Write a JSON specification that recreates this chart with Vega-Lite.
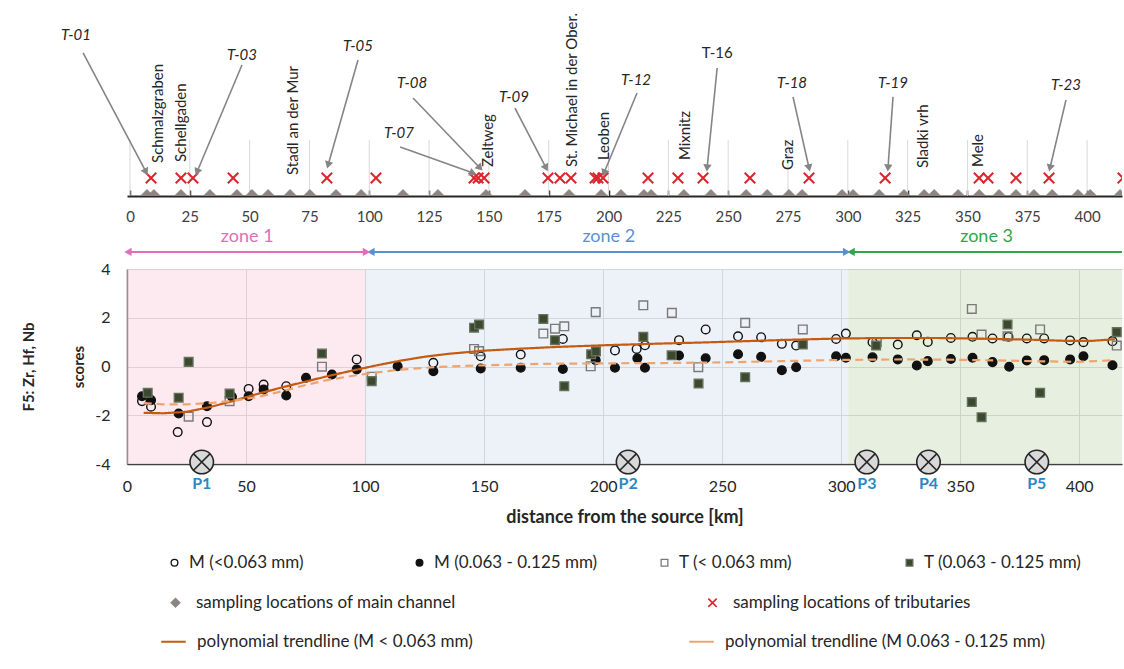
{
  "$schema": "https://vega.github.io/schema/vega-lite/v6.json",
  "padding": {"left": 21, "top": 8, "right": 0, "bottom": 4},
  "autosize": {"type": "pad"},
  "bounds": "flush",
  "spacing": 73,
  "config": {"font": "Lato", "view": {"stroke": null}},
  "datasets": {
    "sites": [
      {"km": 7.1, "loc": "sampling locations of main channel"}, {"km": 10.0, "loc": "sampling locations of main channel"},
      {"km": 21.3, "loc": "sampling locations of main channel"}, {"km": 33.4, "loc": "sampling locations of main channel"},
      {"km": 44.7, "loc": "sampling locations of main channel"}, {"km": 51.0, "loc": "sampling locations of main channel"},
      {"km": 57.7, "loc": "sampling locations of main channel"}, {"km": 66.9, "loc": "sampling locations of main channel"},
      {"km": 75.2, "loc": "sampling locations of main channel"}, {"km": 86.1, "loc": "sampling locations of main channel"},
      {"km": 96.6, "loc": "sampling locations of main channel"}, {"km": 114.1, "loc": "sampling locations of main channel"},
      {"km": 128.7, "loc": "sampling locations of main channel"}, {"km": 148.8, "loc": "sampling locations of main channel"},
      {"km": 165.1, "loc": "sampling locations of main channel"}, {"km": 183.5, "loc": "sampling locations of main channel"},
      {"km": 196.9, "loc": "sampling locations of main channel"}, {"km": 205.2, "loc": "sampling locations of main channel"},
      {"km": 214.8, "loc": "sampling locations of main channel"}, {"km": 217.8, "loc": "sampling locations of main channel"},
      {"km": 231.5, "loc": "sampling locations of main channel"}, {"km": 242.8, "loc": "sampling locations of main channel"},
      {"km": 257.5, "loc": "sampling locations of main channel"}, {"km": 266.3, "loc": "sampling locations of main channel"},
      {"km": 275.4, "loc": "sampling locations of main channel"}, {"km": 280.9, "loc": "sampling locations of main channel"},
      {"km": 297.6, "loc": "sampling locations of main channel"}, {"km": 302.2, "loc": "sampling locations of main channel"},
      {"km": 313.1, "loc": "sampling locations of main channel"}, {"km": 323.5, "loc": "sampling locations of main channel"},
      {"km": 331.9, "loc": "sampling locations of main channel"}, {"km": 336.1, "loc": "sampling locations of main channel"},
      {"km": 346.1, "loc": "sampling locations of main channel"}, {"km": 354.9, "loc": "sampling locations of main channel"},
      {"km": 363.2, "loc": "sampling locations of main channel"}, {"km": 370.3, "loc": "sampling locations of main channel"},
      {"km": 377.8, "loc": "sampling locations of main channel"}, {"km": 385.4, "loc": "sampling locations of main channel"},
      {"km": 396.2, "loc": "sampling locations of main channel"}, {"km": 401.3, "loc": "sampling locations of main channel"},
      {"km": 413.8, "loc": "sampling locations of main channel"},
      {"km": 8.8, "loc": "sampling locations of tributaries"}, {"km": 21.3, "loc": "sampling locations of tributaries"},
      {"km": 26.3, "loc": "sampling locations of tributaries"}, {"km": 43.1, "loc": "sampling locations of tributaries"},
      {"km": 82.3, "loc": "sampling locations of tributaries"}, {"km": 102.8, "loc": "sampling locations of tributaries"},
      {"km": 143.8, "loc": "sampling locations of tributaries"}, {"km": 145.5, "loc": "sampling locations of tributaries"},
      {"km": 148.0, "loc": "sampling locations of tributaries"}, {"km": 174.7, "loc": "sampling locations of tributaries"},
      {"km": 179.7, "loc": "sampling locations of tributaries"}, {"km": 184.3, "loc": "sampling locations of tributaries"},
      {"km": 194.4, "loc": "sampling locations of tributaries"}, {"km": 195.6, "loc": "sampling locations of tributaries"},
      {"km": 197.7, "loc": "sampling locations of tributaries"}, {"km": 216.5, "loc": "sampling locations of tributaries"},
      {"km": 229.0, "loc": "sampling locations of tributaries"}, {"km": 239.5, "loc": "sampling locations of tributaries"},
      {"km": 259.1, "loc": "sampling locations of tributaries"}, {"km": 283.8, "loc": "sampling locations of tributaries"},
      {"km": 315.6, "loc": "sampling locations of tributaries"}, {"km": 354.9, "loc": "sampling locations of tributaries"},
      {"km": 358.6, "loc": "sampling locations of tributaries"}, {"km": 370.3, "loc": "sampling locations of tributaries"},
      {"km": 384.1, "loc": "sampling locations of tributaries"}, {"km": 415.0, "loc": "sampling locations of tributaries"}
    ],
    "towns": [
      {"name": "Schmalzgraben", "km": 11.7, "h": 17.6},
      {"name": "Schellgaden", "km": 21.3, "h": 18.1},
      {"name": "Stadl an der Mur", "km": 68.1, "h": 11.2},
      {"name": "Zeltweg", "km": 149.6, "h": 15.4},
      {"name": "St. Michael in der Ober.", "km": 184.7, "h": 15.4},
      {"name": "Leoben", "km": 198.1, "h": 19.1},
      {"name": "Mixnitz", "km": 232.0, "h": 19.1},
      {"name": "Graz", "km": 275.0, "h": 13.8},
      {"name": "Sladki vrh", "km": 331.5, "h": 14.9},
      {"name": "Mele", "km": 354.4, "h": 15.4}
    ],
    "tribs": [
      {"t": "T-01", "lx": -22.6, "ly": 85.6, "x1": -19.6, "y1": 76.1, "x2": 6.7, "y2": 12.8},
      {"t": "T-03", "lx": 46.8, "ly": 75.0, "x1": 46.8, "y1": 69.7, "x2": 28.0, "y2": 12.8},
      {"t": "T-05", "lx": 95.3, "ly": 79.8, "x1": 95.3, "y1": 72.3, "x2": 82.8, "y2": 16.5},
      {"t": "T-07", "lx": 112.4, "ly": 33.5, "x1": 112.9, "y1": 26.1, "x2": 143.4, "y2": 12.2},
      {"t": "T-08", "lx": 117.9, "ly": 60.1, "x1": 118.3, "y1": 52.1, "x2": 146.3, "y2": 14.9},
      {"t": "T-09", "lx": 160.5, "ly": 52.7, "x1": 160.9, "y1": 46.8, "x2": 173.9, "y2": 14.9},
      {"t": "T-12", "lx": 211.5, "ly": 61.7, "x1": 211.9, "y1": 54.8, "x2": 198.1, "y2": 12.2},
      {"t": "T-16", "lx": 245.4, "ly": 76.1, "x1": 245.4, "y1": 68.1, "x2": 241.2, "y2": 14.9},
      {"t": "T-18", "lx": 276.7, "ly": 60.1, "x1": 277.1, "y1": 52.7, "x2": 283.8, "y2": 14.9},
      {"t": "T-19", "lx": 318.9, "ly": 60.1, "x1": 318.9, "y1": 52.7, "x2": 316.8, "y2": 14.9},
      {"t": "T-23", "lx": 391.2, "ly": 59.0, "x1": 391.2, "y1": 51.1, "x2": 384.5, "y2": 14.9}
    ],
    "ticks": [{"km": 0}, {"km": 25}, {"km": 50}, {"km": 75}, {"km": 100}, {"km": 125}, {"km": 150}, {"km": 175}, {"km": 200}, {"km": 225}, {"km": 250}, {"km": 275}, {"km": 300}, {"km": 325}, {"km": 350}, {"km": 375}, {"km": 400}],
    "scores": [
      {"series": "M (<0.063 mm)", "km": 6.3, "v": -1.42}, {"series": "M (<0.063 mm)", "km": 10.1, "v": -1.65},
      {"series": "M (<0.063 mm)", "km": 21.3, "v": -2.69}, {"series": "M (<0.063 mm)", "km": 33.6, "v": -2.28},
      {"series": "M (<0.063 mm)", "km": 51.1, "v": -0.92}, {"series": "M (<0.063 mm)", "km": 57.4, "v": -0.74},
      {"series": "M (<0.063 mm)", "km": 66.9, "v": -0.81}, {"series": "M (<0.063 mm)", "km": 96.5, "v": 0.29},
      {"series": "M (<0.063 mm)", "km": 128.7, "v": 0.15}, {"series": "M (<0.063 mm)", "km": 148.6, "v": 0.42},
      {"series": "M (<0.063 mm)", "km": 165.4, "v": 0.49}, {"series": "M (<0.063 mm)", "km": 183.1, "v": 1.13},
      {"series": "M (<0.063 mm)", "km": 205.0, "v": 0.66}, {"series": "M (<0.063 mm)", "km": 214.1, "v": 0.72},
      {"series": "M (<0.063 mm)", "km": 217.6, "v": 0.87}, {"series": "M (<0.063 mm)", "km": 231.9, "v": 1.08},
      {"series": "M (<0.063 mm)", "km": 243.1, "v": 1.52}, {"series": "M (<0.063 mm)", "km": 256.7, "v": 1.24},
      {"series": "M (<0.063 mm)", "km": 266.4, "v": 1.20}, {"series": "M (<0.063 mm)", "km": 275.1, "v": 0.93},
      {"series": "M (<0.063 mm)", "km": 281.1, "v": 0.86}, {"series": "M (<0.063 mm)", "km": 297.9, "v": 1.13},
      {"series": "M (<0.063 mm)", "km": 302.0, "v": 1.35}, {"series": "M (<0.063 mm)", "km": 313.2, "v": 1.00},
      {"series": "M (<0.063 mm)", "km": 323.8, "v": 0.90}, {"series": "M (<0.063 mm)", "km": 331.8, "v": 1.28},
      {"series": "M (<0.063 mm)", "km": 336.4, "v": 1.01}, {"series": "M (<0.063 mm)", "km": 346.1, "v": 1.17},
      {"series": "M (<0.063 mm)", "km": 355.2, "v": 1.22}, {"series": "M (<0.063 mm)", "km": 363.6, "v": 1.15},
      {"series": "M (<0.063 mm)", "km": 370.3, "v": 1.22}, {"series": "M (<0.063 mm)", "km": 378.0, "v": 1.15},
      {"series": "M (<0.063 mm)", "km": 385.3, "v": 1.15}, {"series": "M (<0.063 mm)", "km": 396.2, "v": 1.07},
      {"series": "M (<0.063 mm)", "km": 401.8, "v": 1.00}, {"series": "M (<0.063 mm)", "km": 414.0, "v": 1.04},
      {"series": "M (0.063 - 0.125 mm)", "km": 6.3, "v": -1.22}, {"series": "M (0.063 - 0.125 mm)", "km": 10.1, "v": -1.38},
      {"series": "M (0.063 - 0.125 mm)", "km": 21.7, "v": -1.93}, {"series": "M (0.063 - 0.125 mm)", "km": 33.6, "v": -1.63},
      {"series": "M (0.063 - 0.125 mm)", "km": 44.1, "v": -1.24}, {"series": "M (0.063 - 0.125 mm)", "km": 51.1, "v": -1.22},
      {"series": "M (0.063 - 0.125 mm)", "km": 57.4, "v": -0.94}, {"series": "M (0.063 - 0.125 mm)", "km": 66.9, "v": -1.19},
      {"series": "M (0.063 - 0.125 mm)", "km": 75.2, "v": -0.46}, {"series": "M (0.063 - 0.125 mm)", "km": 86.1, "v": -0.33},
      {"series": "M (0.063 - 0.125 mm)", "km": 96.5, "v": -0.12}, {"series": "M (0.063 - 0.125 mm)", "km": 113.7, "v": 0.01},
      {"series": "M (0.063 - 0.125 mm)", "km": 128.7, "v": -0.19}, {"series": "M (0.063 - 0.125 mm)", "km": 148.6, "v": -0.08},
      {"series": "M (0.063 - 0.125 mm)", "km": 165.4, "v": -0.05}, {"series": "M (0.063 - 0.125 mm)", "km": 183.1, "v": -0.10},
      {"series": "M (0.063 - 0.125 mm)", "km": 196.9, "v": 0.26}, {"series": "M (0.063 - 0.125 mm)", "km": 205.0, "v": -0.05},
      {"series": "M (0.063 - 0.125 mm)", "km": 214.4, "v": 0.34}, {"series": "M (0.063 - 0.125 mm)", "km": 217.6, "v": -0.05},
      {"series": "M (0.063 - 0.125 mm)", "km": 231.9, "v": 0.45}, {"series": "M (0.063 - 0.125 mm)", "km": 243.1, "v": 0.34},
      {"series": "M (0.063 - 0.125 mm)", "km": 256.7, "v": 0.50}, {"series": "M (0.063 - 0.125 mm)", "km": 266.4, "v": 0.40},
      {"series": "M (0.063 - 0.125 mm)", "km": 275.1, "v": -0.15}, {"series": "M (0.063 - 0.125 mm)", "km": 281.1, "v": -0.03},
      {"series": "M (0.063 - 0.125 mm)", "km": 297.9, "v": 0.42}, {"series": "M (0.063 - 0.125 mm)", "km": 302.0, "v": 0.36},
      {"series": "M (0.063 - 0.125 mm)", "km": 313.2, "v": 0.38}, {"series": "M (0.063 - 0.125 mm)", "km": 323.8, "v": 0.29},
      {"series": "M (0.063 - 0.125 mm)", "km": 331.8, "v": 0.04}, {"series": "M (0.063 - 0.125 mm)", "km": 336.4, "v": 0.22},
      {"series": "M (0.063 - 0.125 mm)", "km": 346.1, "v": 0.31}, {"series": "M (0.063 - 0.125 mm)", "km": 355.2, "v": 0.36},
      {"series": "M (0.063 - 0.125 mm)", "km": 363.6, "v": 0.18}, {"series": "M (0.063 - 0.125 mm)", "km": 370.6, "v": -0.01},
      {"series": "M (0.063 - 0.125 mm)", "km": 378.0, "v": 0.25}, {"series": "M (0.063 - 0.125 mm)", "km": 385.3, "v": 0.26},
      {"series": "M (0.063 - 0.125 mm)", "km": 396.2, "v": 0.29}, {"series": "M (0.063 - 0.125 mm)", "km": 401.8, "v": 0.42},
      {"series": "M (0.063 - 0.125 mm)", "km": 414.0, "v": 0.05},
      {"series": "T (< 0.063 mm)", "km": 25.9, "v": -2.06}, {"series": "T (< 0.063 mm)", "km": 43.1, "v": -1.42},
      {"series": "T (< 0.063 mm)", "km": 81.9, "v": -0.01}, {"series": "T (< 0.063 mm)", "km": 102.8, "v": -0.42},
      {"series": "T (< 0.063 mm)", "km": 145.8, "v": 0.72}, {"series": "T (< 0.063 mm)", "km": 147.9, "v": 0.63},
      {"series": "T (< 0.063 mm)", "km": 174.9, "v": 1.35}, {"series": "T (< 0.063 mm)", "km": 179.8, "v": 1.55},
      {"series": "T (< 0.063 mm)", "km": 183.7, "v": 1.65}, {"series": "T (< 0.063 mm)", "km": 194.8, "v": 0.01},
      {"series": "T (< 0.063 mm)", "km": 196.9, "v": 2.23}, {"series": "T (< 0.063 mm)", "km": 216.9, "v": 2.51},
      {"series": "T (< 0.063 mm)", "km": 228.9, "v": 2.20}, {"series": "T (< 0.063 mm)", "km": 240.0, "v": -0.03},
      {"series": "T (< 0.063 mm)", "km": 259.7, "v": 1.79}, {"series": "T (< 0.063 mm)", "km": 283.9, "v": 1.52},
      {"series": "T (< 0.063 mm)", "km": 315.0, "v": 1.00}, {"series": "T (< 0.063 mm)", "km": 354.9, "v": 2.36},
      {"series": "T (< 0.063 mm)", "km": 359.0, "v": 1.31}, {"series": "T (< 0.063 mm)", "km": 369.9, "v": 1.24},
      {"series": "T (< 0.063 mm)", "km": 383.6, "v": 1.52}, {"series": "T (< 0.063 mm)", "km": 415.8, "v": 0.86},
      {"series": "T (0.063 - 0.125 mm)", "km": 8.7, "v": -1.08}, {"series": "T (0.063 - 0.125 mm)", "km": 21.7, "v": -1.28},
      {"series": "T (0.063 - 0.125 mm)", "km": 25.9, "v": 0.19}, {"series": "T (0.063 - 0.125 mm)", "km": 43.1, "v": -1.11},
      {"series": "T (0.063 - 0.125 mm)", "km": 81.9, "v": 0.53}, {"series": "T (0.063 - 0.125 mm)", "km": 102.8, "v": -0.60},
      {"series": "T (0.063 - 0.125 mm)", "km": 145.8, "v": 1.59}, {"series": "T (0.063 - 0.125 mm)", "km": 147.9, "v": 1.72},
      {"series": "T (0.063 - 0.125 mm)", "km": 174.9, "v": 1.95}, {"series": "T (0.063 - 0.125 mm)", "km": 179.8, "v": 1.08},
      {"series": "T (0.063 - 0.125 mm)", "km": 183.7, "v": -0.81}, {"series": "T (0.063 - 0.125 mm)", "km": 195.0, "v": 0.50},
      {"series": "T (0.063 - 0.125 mm)", "km": 197.0, "v": 0.62}, {"series": "T (0.063 - 0.125 mm)", "km": 216.9, "v": 1.22},
      {"series": "T (0.063 - 0.125 mm)", "km": 228.8, "v": 0.46}, {"series": "T (0.063 - 0.125 mm)", "km": 240.1, "v": -0.70},
      {"series": "T (0.063 - 0.125 mm)", "km": 259.7, "v": -0.44}, {"series": "T (0.063 - 0.125 mm)", "km": 283.9, "v": 0.90},
      {"series": "T (0.063 - 0.125 mm)", "km": 314.7, "v": 0.86}, {"series": "T (0.063 - 0.125 mm)", "km": 354.9, "v": -1.46},
      {"series": "T (0.063 - 0.125 mm)", "km": 359.0, "v": -2.08}, {"series": "T (0.063 - 0.125 mm)", "km": 369.9, "v": 1.72},
      {"series": "T (0.063 - 0.125 mm)", "km": 383.6, "v": -1.08}, {"series": "T (0.063 - 0.125 mm)", "km": 415.8, "v": 1.41}
    ],
    "trends": [
      {"trend": "polynomial trendline (M < 0.063 mm)", "km": 7, "v": -1.90}, {"trend": "polynomial trendline (M < 0.063 mm)", "km": 15, "v": -1.92},
      {"trend": "polynomial trendline (M < 0.063 mm)", "km": 25, "v": -1.86}, {"trend": "polynomial trendline (M < 0.063 mm)", "km": 35, "v": -1.66},
      {"trend": "polynomial trendline (M < 0.063 mm)", "km": 45, "v": -1.40}, {"trend": "polynomial trendline (M < 0.063 mm)", "km": 55, "v": -1.12},
      {"trend": "polynomial trendline (M < 0.063 mm)", "km": 65, "v": -0.86}, {"trend": "polynomial trendline (M < 0.063 mm)", "km": 75, "v": -0.62},
      {"trend": "polynomial trendline (M < 0.063 mm)", "km": 85, "v": -0.38}, {"trend": "polynomial trendline (M < 0.063 mm)", "km": 95, "v": -0.16},
      {"trend": "polynomial trendline (M < 0.063 mm)", "km": 105, "v": 0.05}, {"trend": "polynomial trendline (M < 0.063 mm)", "km": 115, "v": 0.24},
      {"trend": "polynomial trendline (M < 0.063 mm)", "km": 125, "v": 0.40}, {"trend": "polynomial trendline (M < 0.063 mm)", "km": 135, "v": 0.52},
      {"trend": "polynomial trendline (M < 0.063 mm)", "km": 150, "v": 0.65}, {"trend": "polynomial trendline (M < 0.063 mm)", "km": 165, "v": 0.73},
      {"trend": "polynomial trendline (M < 0.063 mm)", "km": 180, "v": 0.80}, {"trend": "polynomial trendline (M < 0.063 mm)", "km": 200, "v": 0.87},
      {"trend": "polynomial trendline (M < 0.063 mm)", "km": 220, "v": 0.93}, {"trend": "polynomial trendline (M < 0.063 mm)", "km": 240, "v": 0.98},
      {"trend": "polynomial trendline (M < 0.063 mm)", "km": 260, "v": 1.04}, {"trend": "polynomial trendline (M < 0.063 mm)", "km": 280, "v": 1.10},
      {"trend": "polynomial trendline (M < 0.063 mm)", "km": 300, "v": 1.15}, {"trend": "polynomial trendline (M < 0.063 mm)", "km": 320, "v": 1.17},
      {"trend": "polynomial trendline (M < 0.063 mm)", "km": 340, "v": 1.17}, {"trend": "polynomial trendline (M < 0.063 mm)", "km": 360, "v": 1.14},
      {"trend": "polynomial trendline (M < 0.063 mm)", "km": 380, "v": 1.10}, {"trend": "polynomial trendline (M < 0.063 mm)", "km": 395, "v": 1.05},
      {"trend": "polynomial trendline (M < 0.063 mm)", "km": 405, "v": 1.05}, {"trend": "polynomial trendline (M < 0.063 mm)", "km": 415, "v": 1.12},
      {"trend": "polynomial trendline (M 0.063 - 0.125 mm)", "km": 7, "v": -1.50}, {"trend": "polynomial trendline (M 0.063 - 0.125 mm)", "km": 15, "v": -1.55},
      {"trend": "polynomial trendline (M 0.063 - 0.125 mm)", "km": 25, "v": -1.55}, {"trend": "polynomial trendline (M 0.063 - 0.125 mm)", "km": 35, "v": -1.50},
      {"trend": "polynomial trendline (M 0.063 - 0.125 mm)", "km": 45, "v": -1.40}, {"trend": "polynomial trendline (M 0.063 - 0.125 mm)", "km": 55, "v": -1.25},
      {"trend": "polynomial trendline (M 0.063 - 0.125 mm)", "km": 65, "v": -1.02}, {"trend": "polynomial trendline (M 0.063 - 0.125 mm)", "km": 75, "v": -0.76},
      {"trend": "polynomial trendline (M 0.063 - 0.125 mm)", "km": 85, "v": -0.54}, {"trend": "polynomial trendline (M 0.063 - 0.125 mm)", "km": 95, "v": -0.38},
      {"trend": "polynomial trendline (M 0.063 - 0.125 mm)", "km": 105, "v": -0.24}, {"trend": "polynomial trendline (M 0.063 - 0.125 mm)", "km": 115, "v": -0.13},
      {"trend": "polynomial trendline (M 0.063 - 0.125 mm)", "km": 130, "v": -0.02}, {"trend": "polynomial trendline (M 0.063 - 0.125 mm)", "km": 150, "v": 0.05},
      {"trend": "polynomial trendline (M 0.063 - 0.125 mm)", "km": 175, "v": 0.11}, {"trend": "polynomial trendline (M 0.063 - 0.125 mm)", "km": 200, "v": 0.13},
      {"trend": "polynomial trendline (M 0.063 - 0.125 mm)", "km": 225, "v": 0.14}, {"trend": "polynomial trendline (M 0.063 - 0.125 mm)", "km": 250, "v": 0.17},
      {"trend": "polynomial trendline (M 0.063 - 0.125 mm)", "km": 275, "v": 0.22}, {"trend": "polynomial trendline (M 0.063 - 0.125 mm)", "km": 300, "v": 0.27},
      {"trend": "polynomial trendline (M 0.063 - 0.125 mm)", "km": 325, "v": 0.29}, {"trend": "polynomial trendline (M 0.063 - 0.125 mm)", "km": 345, "v": 0.28},
      {"trend": "polynomial trendline (M 0.063 - 0.125 mm)", "km": 365, "v": 0.25}, {"trend": "polynomial trendline (M 0.063 - 0.125 mm)", "km": 385, "v": 0.21},
      {"trend": "polynomial trendline (M 0.063 - 0.125 mm)", "km": 400, "v": 0.19}, {"trend": "polynomial trendline (M 0.063 - 0.125 mm)", "km": 415, "v": 0.26}
    ],
    "zonebg": [
      {"zone": "zone 1", "from": 0, "to": 100},
      {"zone": "zone 2", "from": 100, "to": 303},
      {"zone": "zone 3", "from": 303, "to": 418}
    ],
    "zones": [
      {"zone": "zone 1", "start": 0.4, "end": 100.6},
      {"zone": "zone 2", "start": 102.5, "end": 302.3},
      {"zone": "zone 3", "start": 304.2, "end": 418}
    ],
    "pts": [
      {"p": "P1", "km": 31.4}, {"p": "P2", "km": 210.5}, {"p": "P3", "km": 310.8}, {"p": "P4", "km": 336.7}, {"p": "P5", "km": 382.2}
    ]
  },
  "resolve": {"scale": {"x": "independent", "y": "independent", "shape": "independent", "fill": "independent", "stroke": "independent", "color": "independent", "strokeDash": "independent"}},
  "vconcat": [
    {
      "width": 995,
      "height": 188,
      "layer": [
        {
          "data": {"name": "ticks"},
          "mark": {"type": "rule", "stroke": "#d9d9d9", "strokeWidth": 1},
          "encoding": {
            "x": {"field": "km", "type": "quantitative", "title": null,
                  "scale": {"domain": [-1.25, 414.6], "nice": false, "zero": false},
                  "axis": {"values": [0,25,50,75,100,125,150,175,200,225,250,275,300,325,350,375,400], "grid": false,
                           "domainColor": "#262626", "domainWidth": 2, "tickColor": "#262626", "tickWidth": 1.5, "tickSize": -6,
                           "labelFontSize": 15, "labelColor": "#404040", "labelPadding": 19, "labelFlush": false, "labelOverlap": false}},
            "y": {"datum": 0, "type": "quantitative", "scale": {"domain": [0, 100], "nice": false, "zero": false}, "axis": null},
            "y2": {"datum": 29.8}
          }
        },
        {
          "data": {"name": "sites"},
          "transform": [{"filter": "datum.loc == 'sampling locations of main channel'"}],
          "mark": {"type": "point", "filled": true, "size": 165, "strokeWidth": 1, "opacity": 1, "clip": true},
          "encoding": {
            "x": {"field": "km", "type": "quantitative", "title": null},
            "y": {"datum": 0, "type": "quantitative"},
            "shape": {"field": "loc", "type": "nominal",
                      "scale": {"domain": ["sampling locations of main channel", "sampling locations of tributaries"], "range": ["diamond", "M-1,-1L1,1M-1,1L1,-1"]},
                      "legend": {"orient": "none", "legendX": 40, "legendY": 586, "title": null, "direction": "horizontal", "columns": 2, "gridAlign": "all", "columnPadding": 248,
                                 "labelFontSize": 17, "labelColor": "#262626", "labelFont": "Lato", "labelLimit": 500, "symbolSize": 70, "symbolStrokeWidth": 1.6, "labelOffset": 12}},
            "fill": {"field": "loc", "type": "nominal", "scale": {"domain": ["sampling locations of main channel", "sampling locations of tributaries"], "range": ["#8c8581", "transparent"]}},
            "stroke": {"field": "loc", "type": "nominal", "scale": {"domain": ["sampling locations of main channel", "sampling locations of tributaries"], "range": ["#8c8581", "#d9262c"]}}
          }
        },
        {
          "data": {"name": "sites"},
          "transform": [{"filter": "datum.loc == 'sampling locations of tributaries'"}],
          "mark": {"type": "point", "filled": true, "size": 110, "strokeWidth": 2, "opacity": 1, "clip": true},
          "encoding": {
            "x": {"field": "km", "type": "quantitative", "title": null},
            "y": {"datum": 9.6, "type": "quantitative"},
            "shape": {"field": "loc", "type": "nominal"},
            "fill": {"field": "loc", "type": "nominal"},
            "stroke": {"field": "loc", "type": "nominal"}
          }
        },
        {
          "data": {"name": "towns"},
          "mark": {"type": "text", "angle": 270, "align": "left", "baseline": "middle", "fontSize": 15, "color": "#262626", "font": "Lato"},
          "encoding": {
            "x": {"field": "km", "type": "quantitative", "title": null},
            "y": {"field": "h", "type": "quantitative"},
            "text": {"field": "name"}
          }
        },
        {
          "data": {"name": "tribs"},
          "mark": {"type": "rule", "stroke": "#858585", "strokeWidth": 1.6},
          "encoding": {
            "x": {"field": "x1", "type": "quantitative", "title": null},
            "y": {"field": "y1", "type": "quantitative"},
            "x2": {"field": "x2"},
            "y2": {"field": "y2"}
          }
        },
        {
          "data": {"name": "tribs"},
          "transform": [{"calculate": "atan2((datum.x2 - datum.x1) * 2.3925, (datum.y2 - datum.y1) * 1.88) * 180 / PI", "as": "ang"}],
          "mark": {"type": "point", "shape": "triangle-up", "filled": true, "size": 70, "color": "#858585", "opacity": 1},
          "encoding": {
            "x": {"field": "x2", "type": "quantitative", "title": null},
            "y": {"field": "y2", "type": "quantitative"},
            "angle": {"field": "ang", "type": "quantitative", "scale": null}
          }
        },
        {
          "data": {"name": "tribs"},
          "transform": [{"filter": "datum.t != 'T-16'"}],
          "mark": {"type": "text", "fontSize": 15, "fontStyle": "italic", "color": "#262626", "align": "center", "baseline": "middle", "font": "Lato"},
          "encoding": {
            "x": {"field": "lx", "type": "quantitative", "title": null},
            "y": {"field": "ly", "type": "quantitative"},
            "text": {"field": "t"}
          }
        },
        {
          "data": {"name": "tribs"},
          "transform": [{"filter": "datum.t == 'T-16'"}],
          "mark": {"type": "text", "fontSize": 15, "color": "#262626", "align": "center", "baseline": "middle", "font": "Lato"},
          "encoding": {
            "x": {"field": "lx", "type": "quantitative", "title": null},
            "y": {"field": "ly", "type": "quantitative"},
            "text": {"field": "t"}
          }
        }
      ]
    },
    {
      "width": 995,
      "height": 195,
      "resolve": {"scale": {"color": "independent"}},
      "layer": [
        {
          "data": {"name": "zonebg"},
          "mark": {"type": "rect", "opacity": 0.5},
          "encoding": {
            "x": {"field": "from", "type": "quantitative", "title": "distance from the source [km]"},
            "x2": {"field": "to"},
            "y": {"datum": -4, "type": "quantitative", "title": ["F5: Zr, Hf, Nb", "scores"]},
            "y2": {"datum": 4},
            "color": {"field": "zone", "type": "nominal", "legend": null,
                      "scale": {"domain": ["zone 1", "zone 2", "zone 3"], "range": ["#f9d5e2", "#dce5f3", "#d0e2c2"]}}
          }
        },
        {
          "data": {"name": "zones"},
          "layer": [
            {
              "mark": {"type": "rule", "strokeWidth": 2},
              "encoding": {
                "x": {"field": "start", "type": "quantitative", "title": "distance from the source [km]"},
                "x2": {"field": "end"},
                "y": {"datum": 4.70, "type": "quantitative", "title": ["F5: Zr, Hf, Nb", "scores"]},
                "color": {"field": "zone", "type": "nominal", "legend": null,
                          "scale": {"domain": ["zone 1", "zone 2", "zone 3"], "range": ["#e36db6", "#5b90cf", "#2fa64a"]}}
              }
            },
            {
              "mark": {"type": "point", "shape": "triangle-left", "filled": true, "size": 70, "opacity": 1},
              "encoding": {
                "x": {"field": "start", "type": "quantitative", "title": "distance from the source [km]"},
                "y": {"datum": 4.70, "type": "quantitative", "title": ["F5: Zr, Hf, Nb", "scores"]},
                "color": {"field": "zone", "type": "nominal", "legend": null}
              }
            },
            {
              "transform": [{"filter": "datum.zone != 'zone 3'"}],
              "mark": {"type": "point", "shape": "triangle-right", "filled": true, "size": 70, "opacity": 1},
              "encoding": {
                "x": {"field": "end", "type": "quantitative", "title": "distance from the source [km]"},
                "y": {"datum": 4.70, "type": "quantitative", "title": ["F5: Zr, Hf, Nb", "scores"]},
                "color": {"field": "zone", "type": "nominal", "legend": null}
              }
            },
            {
              "transform": [{"calculate": "(datum.start + datum.end) / 2", "as": "mid"}],
              "mark": {"type": "text", "fontSize": 18, "baseline": "middle", "align": "center", "font": "Lato"},
              "encoding": {
                "x": {"field": "mid", "type": "quantitative", "title": "distance from the source [km]"},
                "y": {"datum": 5.31, "type": "quantitative", "title": ["F5: Zr, Hf, Nb", "scores"]},
                "text": {"field": "zone"},
                "color": {"field": "zone", "type": "nominal", "legend": null}
              }
            }
          ]
        },
        {
          "data": {"name": "scores"},
          "mark": {"type": "point", "size": 75, "strokeWidth": 1.4, "opacity": 1},
          "encoding": {
            "x": {"field": "km", "type": "quantitative", "title": "distance from the source [km]",
                  "scale": {"domain": [0, 418], "nice": false, "zero": false},
                  "axis": {"values": [0,50,100,150,200,250,300,350,400], "grid": true, "gridColor": "#c8c8c8", "ticks": false,
                           "domainColor": "#404040", "domainWidth": 1.5, "labelFontSize": 16, "labelColor": "#262626", "labelPadding": 14,
                           "labelFlush": false, "titleFontSize": 18, "titleFontWeight": "bold", "titleColor": "#262626", "titlePadding": 14}},
            "y": {"field": "v", "type": "quantitative", "title": ["F5: Zr, Hf, Nb", "scores"],
                  "scale": {"domain": [-4, 4], "nice": false, "zero": false},
                  "axis": {"values": [-4,-2,0,2,4], "labelExpr": "'' + datum.value", "grid": true, "gridColor": "#c8c8c8", "ticks": false,
                           "domainColor": "#404040", "domainWidth": 1.5, "labelFontSize": 16, "labelColor": "#262626", "labelPadding": 17,
                           "titleFontSize": 15, "titleFontWeight": "bold", "titleColor": "#262626", "titlePadding": 8, "titleLineHeight": 50}},
            "shape": {"field": "series", "type": "nominal",
                      "scale": {"domain": ["M (<0.063 mm)", "M (0.063 - 0.125 mm)", "T (< 0.063 mm)", "T (0.063 - 0.125 mm)"], "range": ["circle", "circle", "square", "square"]},
                      "legend": {"orient": "none", "legendX": 39, "legendY": 285, "title": null, "direction": "horizontal", "columns": 4, "gridAlign": "all", "columnPadding": 58,
                                 "labelFontSize": 17, "labelColor": "#262626", "labelFont": "Lato", "labelLimit": 500, "symbolSize": 45, "symbolStrokeWidth": 1.3, "labelOffset": 6}},
            "fill": {"field": "series", "type": "nominal",
                     "scale": {"domain": ["M (<0.063 mm)", "M (0.063 - 0.125 mm)", "T (< 0.063 mm)", "T (0.063 - 0.125 mm)"], "range": ["transparent", "#111111", "transparent", "#3b4a2f"]}},
            "stroke": {"field": "series", "type": "nominal",
                       "scale": {"domain": ["M (<0.063 mm)", "M (0.063 - 0.125 mm)", "T (< 0.063 mm)", "T (0.063 - 0.125 mm)"], "range": ["#111111", "#111111", "#7a7a7a", "#66705c"]}}
          }
        },
        {
          "data": {"name": "trends"},
          "mark": {"type": "line", "strokeWidth": 2.2},
          "encoding": {
            "x": {"field": "km", "type": "quantitative", "title": "distance from the source [km]"},
            "y": {"field": "v", "type": "quantitative", "title": ["F5: Zr, Hf, Nb", "scores"]},
            "color": {"field": "trend", "type": "nominal",
                      "scale": {"domain": ["polynomial trendline (M < 0.063 mm)", "polynomial trendline (M 0.063 - 0.125 mm)"], "range": ["#c55a11", "#eea46f"]},
                      "legend": {"orient": "none", "legendX": 33, "legendY": 359, "title": null, "direction": "horizontal", "columns": 2, "gridAlign": "all", "columnPadding": 168,
                                 "labelFontSize": 17, "labelColor": "#262626", "labelFont": "Lato", "labelLimit": 500, "symbolType": "stroke", "symbolSize": 600, "symbolStrokeWidth": 2, "labelOffset": 10}},
            "strokeDash": {"field": "trend", "type": "nominal",
                           "scale": {"domain": ["polynomial trendline (M < 0.063 mm)", "polynomial trendline (M 0.063 - 0.125 mm)"], "range": [[1, 0], [8, 5]]}}
          }
        },
        {
          "data": {"name": "pts"},
          "layer": [
            {
              "mark": {"type": "point", "shape": "circle", "size": 550, "filled": true, "fill": "#d9d9d9", "stroke": "#262626", "strokeWidth": 1.6, "opacity": 1},
              "encoding": {
                "x": {"field": "km", "type": "quantitative", "title": "distance from the source [km]"},
                "y": {"datum": -3.92, "type": "quantitative", "title": ["F5: Zr, Hf, Nb", "scores"]}
              }
            },
            {
              "mark": {"type": "point", "shape": "M-0.72,-0.72L0.72,0.72M-0.72,0.72L0.72,-0.72", "size": 550, "filled": false, "stroke": "#262626", "strokeWidth": 1.6, "opacity": 1},
              "encoding": {
                "x": {"field": "km", "type": "quantitative", "title": "distance from the source [km]"},
                "y": {"datum": -3.92, "type": "quantitative", "title": ["F5: Zr, Hf, Nb", "scores"]}
              }
            },
            {
              "mark": {"type": "text", "fontSize": 16, "fontWeight": "bold", "color": "#2a89c2", "align": "center", "baseline": "middle", "font": "Lato"},
              "encoding": {
                "x": {"field": "km", "type": "quantitative", "title": "distance from the source [km]"},
                "y": {"datum": -4.84, "type": "quantitative", "title": ["F5: Zr, Hf, Nb", "scores"]},
                "text": {"field": "p"}
              }
            }
          ]
        }
      ]
    }
  ]
}
